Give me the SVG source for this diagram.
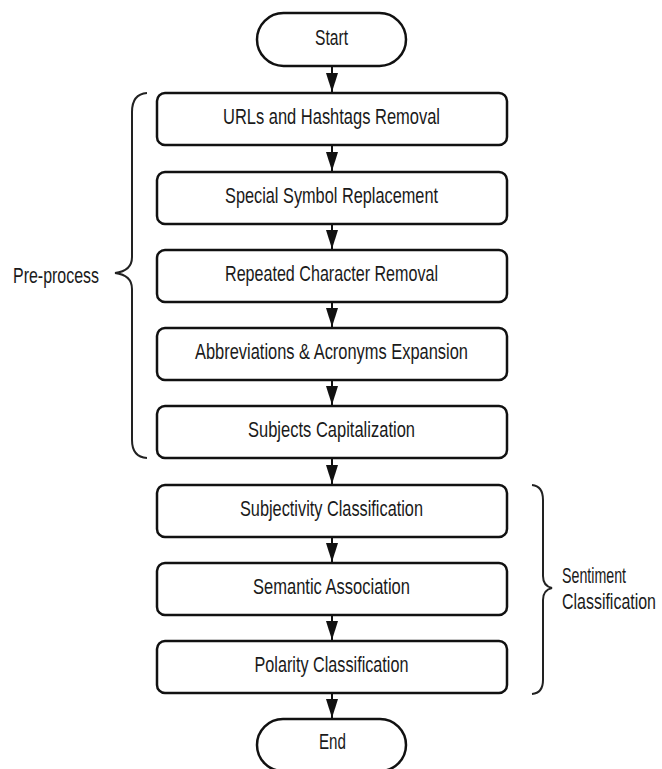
<svg xmlns="http://www.w3.org/2000/svg" width="662" height="769" viewBox="0 0 662 769">
<style>
.box{fill:#fff;stroke:#111;stroke-width:2.5}
.t{font-family:"Liberation Sans",Arial,sans-serif;font-size:22.5px;fill:#1a1a1a;text-anchor:middle}
.s{font-family:"Liberation Sans",Arial,sans-serif;font-size:22.5px;fill:#1a1a1a}
.ln{stroke:#111;stroke-width:2;fill:none}
.br{stroke:#222;stroke-width:2;fill:none}
</style>
<defs>
<marker id="ah" markerWidth="19" markerHeight="12" refX="19" refY="6" orient="auto" markerUnits="userSpaceOnUse" viewBox="0 0 19 12">
<path d="M0,0 L19,6 L0,12 Z" fill="#111"/>
</marker>
</defs>
<rect width="662" height="769" fill="#fff"/>
<g id="connectors">
<line class="ln" x1="332" y1="66" x2="332" y2="92" marker-end="url(#ah)"/>
<line class="ln" x1="332" y1="145" x2="332" y2="171" marker-end="url(#ah)"/>
<line class="ln" x1="332" y1="224" x2="332" y2="249" marker-end="url(#ah)"/>
<line class="ln" x1="332" y1="302" x2="332" y2="327" marker-end="url(#ah)"/>
<line class="ln" x1="332" y1="380" x2="332" y2="405" marker-end="url(#ah)"/>
<line class="ln" x1="332" y1="458" x2="332" y2="484" marker-end="url(#ah)"/>
<line class="ln" x1="332" y1="537" x2="332" y2="562" marker-end="url(#ah)"/>
<line class="ln" x1="332" y1="615" x2="332" y2="640" marker-end="url(#ah)"/>
<line class="ln" x1="332" y1="693" x2="332" y2="718" marker-end="url(#ah)"/>
</g>
<g id="start"><rect class="box" x="257" y="13" width="149" height="53" rx="26.5"/><text class="t" x="331.5" y="45" textLength="33" lengthAdjust="spacingAndGlyphs">Start</text></g>
<g id="n1"><rect class="box" x="157" y="93" width="350" height="52" rx="8"/><text class="t" x="331.5" y="124" textLength="217" lengthAdjust="spacingAndGlyphs">URLs and Hashtags Removal</text></g>
<g id="n2"><rect class="box" x="157" y="172" width="350" height="52" rx="8"/><text class="t" x="331.5" y="203" textLength="213" lengthAdjust="spacingAndGlyphs">Special Symbol Replacement</text></g>
<g id="n3"><rect class="box" x="157" y="250" width="350" height="52" rx="8"/><text class="t" x="331.5" y="281" textLength="213" lengthAdjust="spacingAndGlyphs">Repeated Character Removal</text></g>
<g id="n4"><rect class="box" x="157" y="328" width="350" height="52" rx="8"/><text class="t" x="331.5" y="359" textLength="273" lengthAdjust="spacingAndGlyphs">Abbreviations &amp; Acronyms Expansion</text></g>
<g id="n5"><rect class="box" x="157" y="406" width="350" height="52" rx="8"/><text class="t" x="331.5" y="437" textLength="167" lengthAdjust="spacingAndGlyphs">Subjects Capitalization</text></g>
<g id="n6"><rect class="box" x="157" y="485" width="350" height="52" rx="8"/><text class="t" x="331.5" y="516" textLength="183" lengthAdjust="spacingAndGlyphs">Subjectivity Classification</text></g>
<g id="n7"><rect class="box" x="157" y="563" width="350" height="52" rx="8"/><text class="t" x="331.5" y="594" textLength="157" lengthAdjust="spacingAndGlyphs">Semantic Association</text></g>
<g id="n8"><rect class="box" x="157" y="641" width="350" height="52" rx="8"/><text class="t" x="331.5" y="672" textLength="154" lengthAdjust="spacingAndGlyphs">Polarity Classification</text></g>
<g id="end"><rect class="box" x="257" y="719" width="149" height="52" rx="26"/><text class="t" x="332.5" y="749" textLength="27" lengthAdjust="spacingAndGlyphs">End</text></g>
<g id="preprocess">
<path class="br" d="M147,93 Q132,94 132,112 L132,257 Q132,271 115,273 Q132,275 132,289 L132,440 Q132,457 147,458"/>
<text class="s" x="13" y="283" textLength="86" lengthAdjust="spacingAndGlyphs">Pre-process</text>
</g>
<g id="sentiment">
<path class="br" d="M532,485 Q543,486 543,500 L543,576 Q543,586 552,588 Q543,590 543,600 L543,680 Q543,693 532,694"/>
<text class="s" transform="translate(562,583) scale(0.632,1)">Sentiment</text>
<text class="s" transform="translate(562,609) scale(0.709,1)">Classification</text>
</g>
</svg>
